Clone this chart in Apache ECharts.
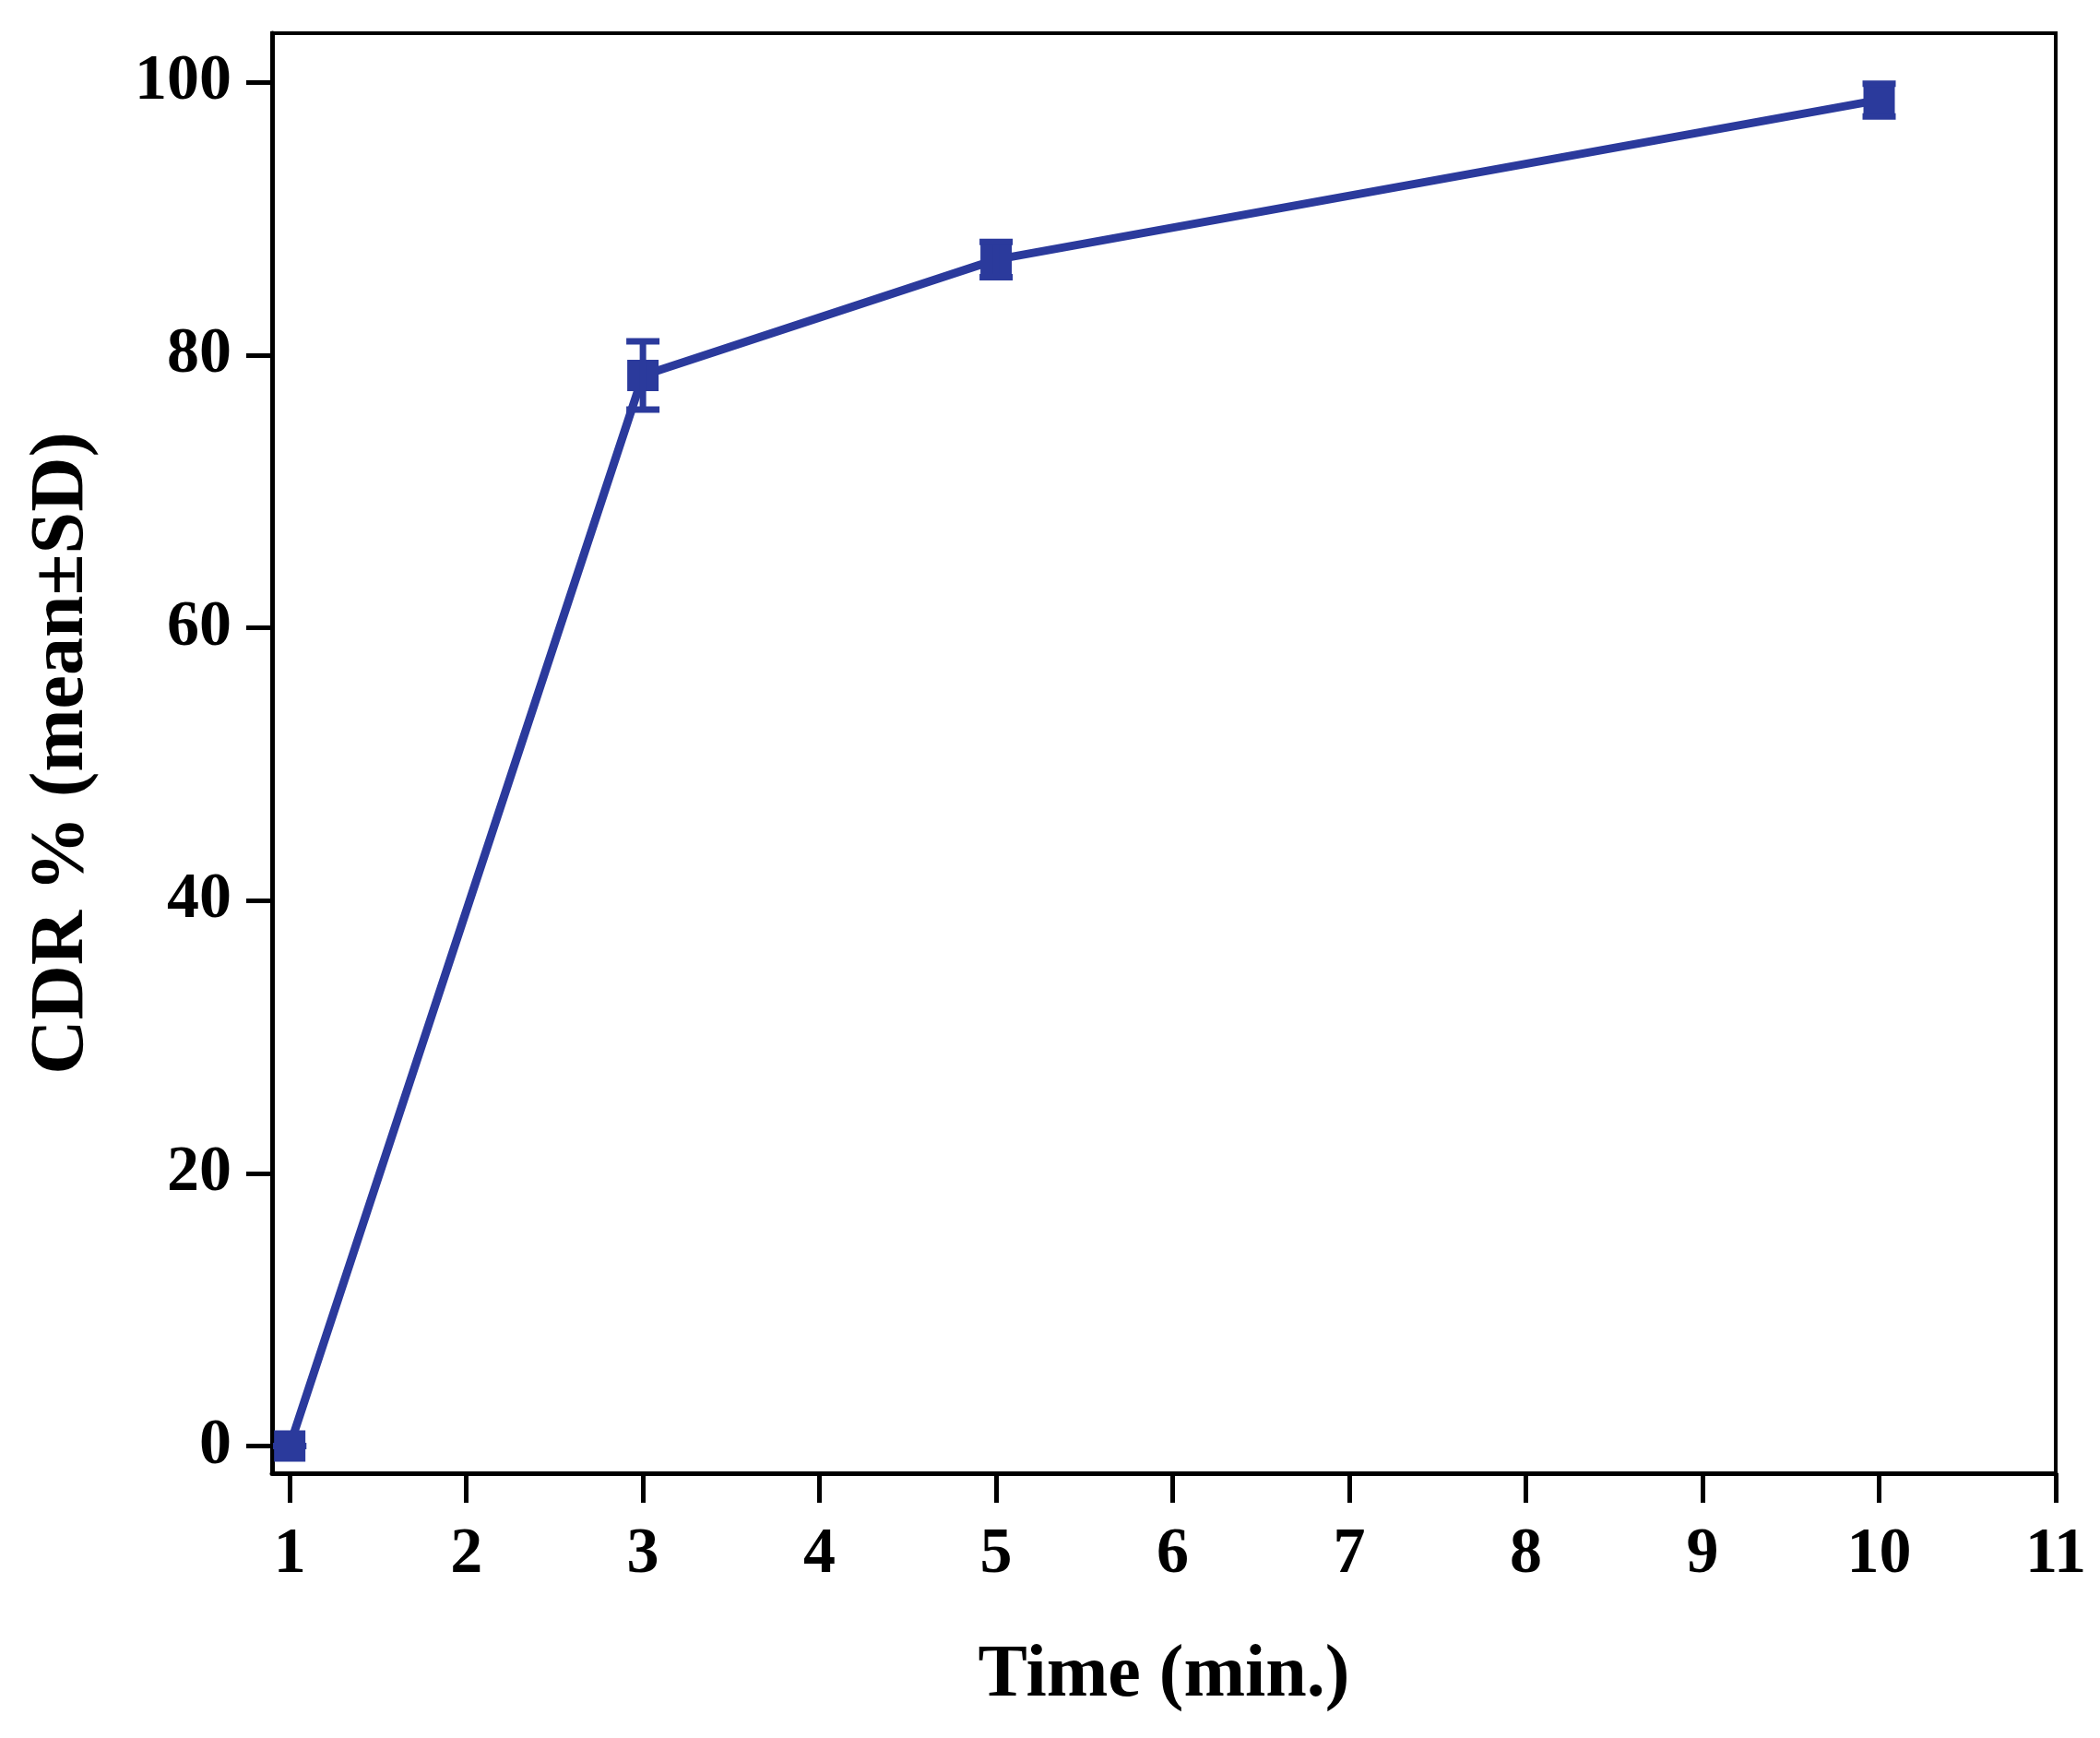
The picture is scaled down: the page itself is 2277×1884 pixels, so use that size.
<!DOCTYPE html>
<html>
<head>
<meta charset="utf-8">
<script src="https://cdn.jsdelivr.net/npm/echarts@6/dist/echarts.min.js"></script>
<style>
  html, body { margin: 0; padding: 0; background: #fff; }
  #main { width: 2277px; height: 1884px; }
</style>
</head>
<body>
<div id="main"></div>
<script>
// data
var times = [1, 3, 5, 10];
var cdrMean = [0, 78.5, 87.0, 98.7];
var cdrSD = [0, 2.5, 1.3, 1.2];
var xTicks = [1, 2, 3, 4, 5, 6, 7, 8, 9, 10, 11];
var yTicks = [0, 20, 40, 60, 80, 100];

var blue = '#2b3a9c';
var fontFam = '"Liberation Serif", "Times New Roman", serif';

var lineData = times.map(function (t, i) { return [t, cdrMean[i]]; });
var errData = times.map(function (t, i) { return [t, cdrMean[i] - cdrSD[i], cdrMean[i] + cdrSD[i]]; });

var dom = document.getElementById('main');
var myChart = echarts.init(dom);

var option = {
  backgroundColor: '#fff',
  animation: false,
  grid: {
    left: 295, right: 48, top: 36, bottom: 287,
    outerBoundsMode: 'none',
    containLabel: false,
    show: true,
    borderColor: '#000',
    borderWidth: 4,
    backgroundColor: 'transparent'
  },
  xAxis: {
    type: 'value',
    min: 0.9,
    max: 11,
    name: 'Time (min.)',
    nameLocation: 'middle',
    nameGap: 180,
    nameTextStyle: { fontFamily: fontFam, fontWeight: 'bold', fontSize: 80, color: '#000' },
    splitLine: { show: false },
    axisLine: { show: true, onZero: false, lineStyle: { color: '#000', width: 5 } },
    axisTick: { show: true, inside: false, length: 32, customValues: xTicks, lineStyle: { color: '#000', width: 5 } },
    axisLabel: { customValues: xTicks, margin: 54, fontFamily: fontFam, fontWeight: 'bold', fontSize: 70, color: '#000' }
  },
  yAxis: {
    type: 'value',
    min: -2,
    max: 103.6,
    name: 'CDR % (mean±SD)',
    nameLocation: 'middle',
    nameGap: 186,
    nameTextStyle: { fontFamily: fontFam, fontWeight: 'bold', fontSize: 82, color: '#000' },
    splitLine: { show: false },
    axisLine: { show: true, onZero: false, lineStyle: { color: '#000', width: 5 } },
    axisTick: { show: true, inside: false, length: 28, customValues: yTicks, lineStyle: { color: '#000', width: 5 } },
    axisLabel: { customValues: yTicks, margin: 44, fontFamily: fontFam, fontWeight: 'bold', fontSize: 70, color: '#000' }
  },
  series: [
    {
      name: 'CDR',
      type: 'line',
      data: lineData,
      symbol: 'rect',
      symbolSize: 34,
      lineStyle: { color: blue, width: 9 },
      itemStyle: { color: blue },
      z: 3
    },
    {
      name: 'SD',
      type: 'custom',
      data: errData,
      z: 4,
      renderItem: function (params, api) {
        var x = api.value(0);
        var lo = api.coord([x, api.value(1)]);
        var hi = api.coord([x, api.value(2)]);
        var w = 18;
        var st = { stroke: blue, lineWidth: 7 };
        return {
          type: 'group',
          children: [
            { type: 'line', shape: { x1: hi[0], y1: hi[1], x2: lo[0], y2: lo[1] }, style: st },
            { type: 'line', shape: { x1: hi[0] - w, y1: hi[1], x2: hi[0] + w, y2: hi[1] }, style: st },
            { type: 'line', shape: { x1: lo[0] - w, y1: lo[1], x2: lo[0] + w, y2: lo[1] }, style: st }
          ]
        };
      }
    }
  ]
};

myChart.setOption(option, true);
</script>
</body>
</html>
